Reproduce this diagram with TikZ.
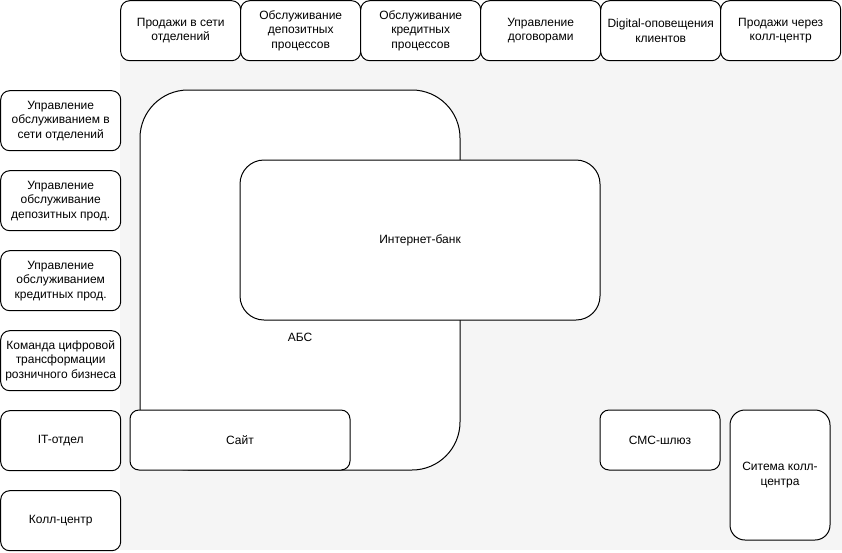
\documentclass[tikz,border=0pt]{standalone}
\usepackage{fontspec}
\setmainfont{Liberation Sans}
\definecolor{canvasgray}{HTML}{F5F5F5}
\begin{document}
\begin{tikzpicture}[x=1pt,y=-1pt,
  unit/.style={draw, fill=white, line width=1pt, rounded corners=9pt,
    minimum width=120pt, minimum height=60pt, inner sep=0pt,
    align=center, font=\fontsize{12}{14.5}\selectfont},
  plain/.style={inner sep=0pt, font=\fontsize{12}{14.5}\selectfont}]
  \useasboundingbox (0,0) rectangle (842,552);
  \fill[canvasgray] (120,60) rectangle (842,550);
  \matrix (topRow) [matrix anchor=north west, inner sep=0pt, column sep=-1pt] at (120,0)
  {
    \node[unit] (branchSales) {Продажи в сети\\отделений}; &
    \node[unit] (depositOps)  {Обслуживание\\депозитных\\процессов}; &
    \node[unit] (creditOps)   {Обслуживание\\кредитных\\процессов}; &
    \node[unit] (contracts)   {Управление\\договорами}; &
    \node[unit] (digitalNote) {Digital-оповещения\\клиентов}; &
    \node[unit] (callSales)   {Продажи через\\колл-центр}; \\
  };
  \matrix (teamCol) [matrix anchor=north west, inner sep=0pt, row sep=19pt] at (0,90)
  {
    \node[unit] (branchMgmt)  {Управление\\обслуживанием в\\сети отделений}; \\
    \node[unit] (depositMgmt) {Управление\\обслуживание\\депозитных прод.}; \\
    \node[unit] (creditMgmt)  {Управление\\обслуживанием\\кредитных прод.}; \\
    \node[unit] (digitalTeam) {Команда цифровой\\трансформации\\розничного бизнеса}; \\
    \node[unit] (itDept)      {IT-отдел}; \\
    \node[unit] (callCenter)  {Колл-центр}; \\
  };
  % systems
  \node[unit, minimum width=320pt, minimum height=380pt, rounded corners=48pt] (abs) at (300,280) {};
  \node[plain] (absLabel) at (300,337) {АБС};
  \node[unit, minimum width=360pt, minimum height=160pt, rounded corners=24pt] (ibank) at (420,240) {Интернет-банк};
  \node[unit, minimum width=220pt] (site) at (240,440) {Сайт};
  \node[unit] (smsGate) at (660,440) {СМС-шлюз};
  \node[unit, minimum width=100pt, minimum height=130pt, rounded corners=15pt] (ccSystem) at (780,475) {Ситема колл-\\центра};
\end{tikzpicture}
\end{document}
